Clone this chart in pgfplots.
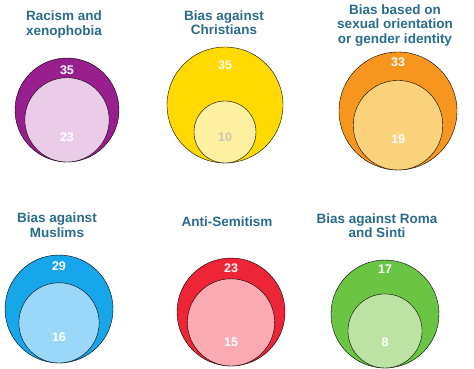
\documentclass[border=0pt]{standalone}
\usepackage{pgfplots}
\usepackage{pgfplotstable}
\pgfplotsset{compat=1.18}
\usepackage{fontspec}
\setmainfont{Liberation Sans}
\definecolor{titlec}{HTML}{2C6A8C}
\definecolor{lbgray}{HTML}{C9C6B8}
\pgfplotsset{
  colormap={outer}{rgb255=(154,31,142) rgb255=(255,217,0) rgb255=(247,150,31) rgb255=(23,166,236) rgb255=(238,36,54) rgb255=(108,196,68)},
  colormap={inner}{rgb255=(234,204,232) rgb255=(253,240,160) rgb255=(251,210,124) rgb255=(154,215,248) rgb255=(249,170,178) rgb255=(188,226,164)},
}
% k: panel index; cx cy R: circle centre and outer radius (px); out, in: values
\pgfplotstableread{
k cx  cy  R  out in ot ib
0 67  110 52 35  23 12 25
1 225 105 58 35  10 18 26
2 398 111 59 33  19 10 31
3 59  309 54 29  16 11 26
4 231 312 54 23  15 10 24
5 385 314 54 17  8  9  26
}\data
\begin{document}
\begin{tikzpicture}
\begin{axis}[x=1pt, y=1pt, y dir=reverse,
  xmin=0, xmax=474, ymin=0, ymax=369,
  hide axis, clip=false, point meta min=0, point meta max=5]
% outer circles
\addplot[scatter, only marks, mark=*, colormap name=outer,
  point meta=\thisrow{k},
  scatter/use mapped color={draw=none, fill=mapped color},
  visualization depends on={\thisrow{R} \as \rad},
  scatter/@pre marker code/.append style={/tikz/mark size=\rad}]
  table[x=cx, y=cy] {\data};
% inner circles (area proportional, bottom aligned)
\addplot[scatter, only marks, mark=*, colormap name=inner,
  point meta=\thisrow{k},
  scatter/use mapped color={draw=none, fill=mapped color},
  visualization depends on={\thisrow{R}*sqrt(\thisrow{in}/\thisrow{out}) \as \rad},
  scatter/@pre marker code/.append style={/tikz/mark size=\rad}]
  table[x=cx, y expr=\thisrow{cy}+\thisrow{R}-\thisrow{R}*sqrt(\thisrow{in}/\thisrow{out})] {\data};
% outer value labels
\addplot[only marks, mark=none, point meta=explicit symbolic,
  nodes near coords,
  every node near coord/.append style={anchor=center, text=white, font=\fontsize{12.5}{13}\selectfont\bfseries}]
  table[x=cx, y expr=\thisrow{cy}-\thisrow{R}+\thisrow{ot}, meta=out] {\data};
% inner value labels
\addplot[only marks, mark=none, point meta=explicit symbolic,
  visualization depends on={\thisrow{k} \as \kk},
  nodes near coords={\pgfmathtruncatemacro{\kn}{\kk}\ifnum\kn=1 \textcolor{lbgray}{\pgfplotspointmeta}\else\pgfplotspointmeta\fi},
  every node near coord/.append style={anchor=center, text=white, font=\fontsize{12.5}{13}\selectfont\bfseries}]
  table[x=cx, y expr=\thisrow{cy}+\thisrow{R}-\thisrow{ib}, meta=in] {\data};
\begin{scope}[every node/.style={align=center, text=titlec, font=\fontsize{13.5}{14.5}\selectfont\bfseries, inner sep=0pt}]
\node at (axis cs:64,24.5) {Racism and\\xenophobia};
\node at (axis cs:224,22.5) {Bias against\\Christians};
\node at (axis cs:395,25.5) {Bias based on\\sexual orientation\\or gender identity};
\node at (axis cs:57,225) {Bias against\\Muslims};
\node at (axis cs:227,222) {Anti-Semitism};
\node at (axis cs:377,225.5) {Bias against Roma\\and Sinti};
\end{scope}
\end{axis}
\pgfresetboundingbox
\path (current axis.south west) rectangle (current axis.north east);
\end{tikzpicture}
\end{document}
